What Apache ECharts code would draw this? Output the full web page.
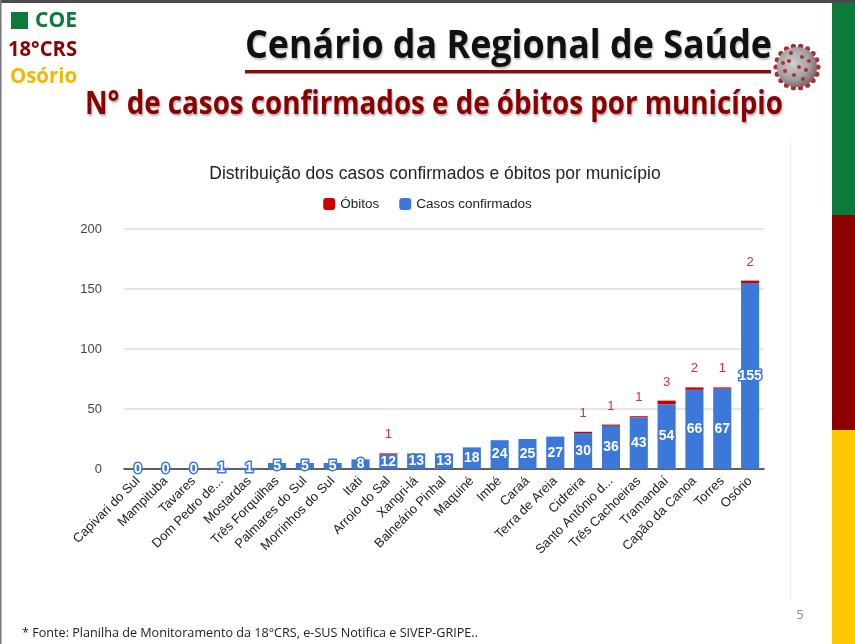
<!DOCTYPE html>
<html>
<head>
<meta charset="utf-8">
<script src="https://cdn.jsdelivr.net/npm/echarts@6/dist/echarts.min.js"></script>
<style>
html,body{margin:0;padding:0;background:#fff;}
#c{width:855px;height:644px;}
</style>
</head>
<body>
<div id="c"></div>
<script>
const categories = ['Capivari do Sul','Mampituba','Tavares','Dom Pedro de...','Mostardas','Três Forquilhas','Palmares do Sul','Morrinhos do Sul','Itati','Arroio do Sal','Xangri-lá','Balneário Pinhal','Maquiné','Imbé','Caraá','Terra de Areia','Cidreira','Santo Antônio d...','Três Cachoeiras','Tramandaí','Capão da Canoa','Torres','Osório'];
const confirmedCases = [0,0,0,1,1,5,5,5,8,12,13,13,18,24,25,27,30,36,43,54,66,67,155];
const deaths = [0,0,0,0,0,0,0,0,0,1,0,0,0,0,0,0,1,1,1,3,2,1,2];
const yMin = 0, yMax = 200, yInterval = 50;

const chartTitle = 'Distribuição dos casos confirmados e óbitos por município';
const slideTitle = 'Cenário da Regional de Saúde';
const slideSubtitle = 'N° de casos confirmados e de óbitos por município';
const footerText = '* Fonte: Planilha de Monitoramento da 18°CRS, e-SUS Notifica e SIVEP-GRIPE..';

const BLUE = '#3c78d8', RED = '#cc0000';
const SLIDE_FONT = '"Open Sans", "Noto Sans", sans-serif';

const ctx = document.createElement('canvas').getContext('2d');
function fitScale(text, font, target){ ctx.font = font; return target / ctx.measureText(text).width; }

const titleFont = 'bold 40px ' + SLIDE_FONT;
const subFont = 'bold 33px ' + SLIDE_FONT;
const logoFont = 'bold 21px ' + SLIDE_FONT;
const footFont = '13px ' + SLIDE_FONT;

const graphics = [];
graphics.push({type:'rect', shape:{x:0,y:0,width:855,height:3}, style:{fill:'#4a4a4a'}});
graphics.push({type:'rect', shape:{x:0,y:0,width:1.5,height:644}, style:{fill:'#777'}});
graphics.push({type:'rect', shape:{x:832,y:3,width:23,height:212}, style:{fill:'#0b7a3b'}});
graphics.push({type:'rect', shape:{x:832,y:215,width:23,height:215}, style:{fill:'#8b0000'}});
graphics.push({type:'rect', shape:{x:832,y:430,width:23,height:214}, style:{fill:'#ffc800'}});
graphics.push({type:'rect', shape:{x:11,y:12,width:17,height:17}, style:{fill:'#0b7a3b'}});
graphics.push({type:'text', x:35, y:21, scaleX: fitScale('COE', logoFont, 42), style:{text:'COE', font:logoFont, fill:'#0b7a3b', align:'left', verticalAlign:'middle', textAlign:'left', textVerticalAlign:'middle'}});
graphics.push({type:'text', x:8, y:50, scaleX: fitScale('18°CRS', logoFont, 69), style:{text:'18°CRS', font:logoFont, fill:'#8b0000', align:'left', verticalAlign:'middle', textAlign:'left', textVerticalAlign:'middle'}});
graphics.push({type:'text', x:10, y:77, scaleX: fitScale('Osório', logoFont, 67), style:{text:'Osório', font:logoFont, fill:'#f2b800', align:'left', verticalAlign:'middle', textAlign:'left', textVerticalAlign:'middle'}});
graphics.push({type:'text', x:245, y:47, scaleX: fitScale(slideTitle, titleFont, 527), style:{text:slideTitle, font:titleFont, fill:'#111', align:'left', verticalAlign:'middle', textAlign:'left', textVerticalAlign:'middle', textShadowColor:'rgba(0,0,0,0.25)', textShadowOffsetX:1, textShadowOffsetY:2, textShadowBlur:2}});
graphics.push({type:'rect', shape:{x:245,y:70,width:526,height:3.5}, style:{fill:'#8b0a0a'}});
const vx = 797, vy = 67;
for (let i = 0; i < 18; i++) {
  const a = i / 18 * Math.PI * 2;
  graphics.push({type:'circle', shape:{cx: vx + Math.cos(a)*21, cy: vy + Math.sin(a)*21, r:2.6}, style:{fill:'#a83030'}});
}
graphics.push({type:'circle', shape:{cx:vx, cy:vy, r:20}, style:{fill:{type:'radial', x:0.4, y:0.4, r:0.7, colorStops:[{offset:0,color:'#d0d0d0'},{offset:0.6,color:'#a0a0a0'},{offset:1,color:'#7a4a4a'}]}}});
const dots = [[-8,-6],[5,-10],[9,3],[-3,8],[-12,4],[2,0],[12,-6],[-6,-14],[6,12],[-14,-4]];
dots.forEach(d => graphics.push({type:'circle', shape:{cx:vx+d[0], cy:vy+d[1], r:2}, style:{fill:'#b03030'}}));
graphics.push({type:'text', x:85, y:105, scaleX: fitScale(slideSubtitle, subFont, 698), style:{text:slideSubtitle, font:subFont, fill:'#8b0000', align:'left', verticalAlign:'middle', textAlign:'left', textVerticalAlign:'middle', textShadowColor:'rgba(0,0,0,0.3)', textShadowOffsetX:1, textShadowOffsetY:2, textShadowBlur:2}});
graphics.push({type:'rect', shape:{x:790,y:140,width:1,height:460}, style:{fill:'#eeeeee'}});
graphics.push({type:'text', x:22, y:633, scaleX: fitScale(footerText, footFont, 456), style:{text:footerText, font:footFont, fill:'#222', align:'left', verticalAlign:'middle', textAlign:'left', textVerticalAlign:'middle'}});
graphics.push({type:'text', x:800, y:615, style:{text:'5', font:'13px "Open Sans", sans-serif', fill:'#888', align:'center', verticalAlign:'middle', textAlign:'center', textVerticalAlign:'middle'}});

const chart = echarts.init(document.getElementById('c'));
chart.setOption({
  backgroundColor:'#fff',
  animation:false,
  textStyle:{fontFamily:'"Liberation Sans", Arial, sans-serif'},
  title:{text:chartTitle, left:430, top:160, textAlign:'center', textStyle:{fontSize:17.5, fontWeight:'normal', color:'#222', fontFamily:'"Liberation Sans", Arial, sans-serif'}},
  legend:{data:['Óbitos','Casos confirmados'], top:192, left:'center', itemWidth:12, itemHeight:12, itemGap:20, icon:'roundRect', textStyle:{fontSize:13.5, color:'#222'}},
  grid:{left:124, right:91, top:229, bottom:175, containLabel:false},
  xAxis:{type:'category', data:categories, axisTick:{show:false}, axisLine:{lineStyle:{color:'#333', width:1.5}},
    axisLabel:{interval:0, rotate:45, fontSize:13, color:'#222', margin:10}},
  yAxis:{type:'value', min:yMin, max:yMax, interval:yInterval, axisLine:{show:false}, axisTick:{show:false},
    splitLine:{lineStyle:{color:'#dcdcdc', width:1.5}}, axisLabel:{fontSize:13, color:'#444', margin:22}},
  series:[
    {name:'Casos confirmados', type:'bar', stack:'t', data:confirmedCases, barWidth:'65%', itemStyle:{color:BLUE},
      label:{show:true, position:'inside', color:'#fff', fontWeight:'bold', fontSize:14, textBorderColor:BLUE, textBorderWidth:3}},
    {name:'Óbitos', type:'bar', stack:'t', data:deaths, barWidth:'65%', itemStyle:{color:RED},
      label:{show:true, position:'top', distance:12, color:'#d23030', fontSize:13, formatter: p => p.value > 0 ? String(p.value) : ''}}
  ],
  color:[BLUE, RED],
  graphic: graphics
});
</script>
</body>
</html>
